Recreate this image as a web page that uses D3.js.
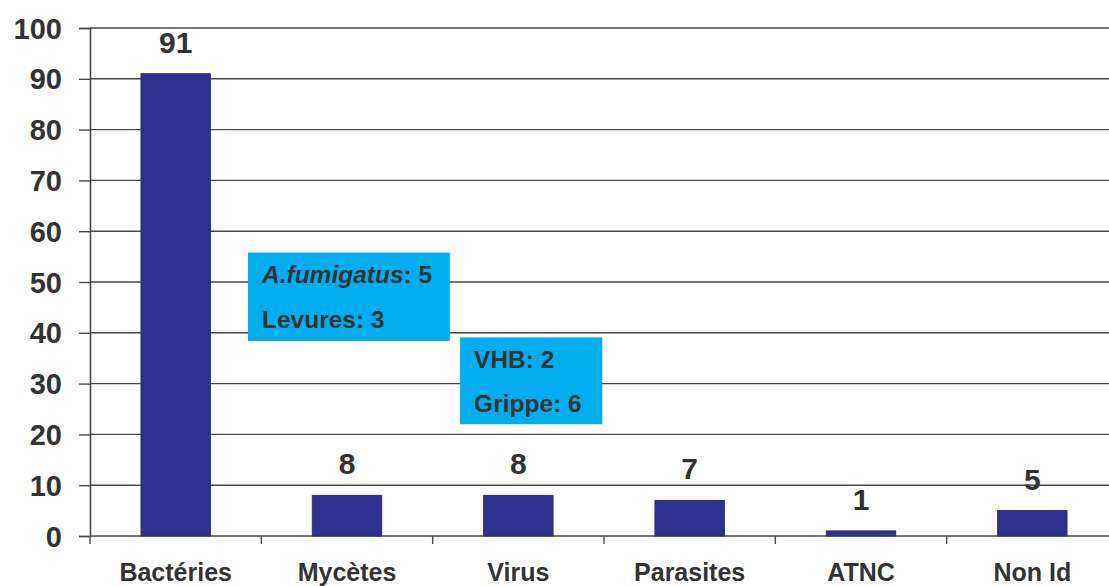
<!DOCTYPE html>
<html>
<head>
<meta charset="utf-8">
<script src="https://cdn.jsdelivr.net/npm/d3@7"></script>
<style>
  html, body { margin: 0; padding: 0; background: #fff; }
  svg { display: block; font-family: "Liberation Sans", Arial, sans-serif; }
</style>
</head>
<body>
<svg id="chart" width="1109" height="586"></svg>
<script>
const categories = ["Bactéries", "Mycètes", "Virus", "Parasites", "ATNC", "Non Id"];
const values = [91, 8, 8, 7, 1, 5];
const yTicks = [0, 10, 20, 30, 40, 50, 60, 70, 80, 90, 100];
const annotationLines1 = [["A.fumigatus", ": 5"], ["", "Levures: 3"]];
const annotationLines2 = [["", "VHB: 2"], ["", "Grippe: 6"]];
// annotation boxes in data units: x in category-band units, y in value units
const annotationBoxes = [
  { x0: 0.922, x1: 2.10, y0: 55.8, y1: 38.4, lines: annotationLines1 },
  { x0: 2.16, x1: 2.99, y0: 39.1, y1: 22.0, lines: annotationLines2 }
];

(function () {
const svg = d3.select("#chart");
const textColor = "#333333";
const plotLeft = 90, plotRight = 1118, plotTop = 28, plotBottom = 536;

const x = d3.scaleBand().domain(categories).range([plotLeft, plotRight]).padding(0);
const xu = d3.scaleLinear().domain([0, categories.length]).range([plotLeft, plotRight]);
const y = d3.scaleLinear().domain([0, 100]).range([plotBottom, plotTop]);

// gridlines
svg.append("g").selectAll("line").data(yTicks.filter(d => d > 0)).join("line")
  .attr("x1", plotLeft).attr("x2", 1109)
  .attr("y1", d => y(d)).attr("y2", d => y(d))
  .attr("stroke", "#4a4a4a").attr("stroke-width", 1.4);

// y axis
const yAxis = d3.axisLeft(y).tickValues(yTicks).tickSize(11).tickPadding(17);
const gy = svg.append("g").attr("transform", `translate(${plotLeft},0)`).call(yAxis);
gy.select(".domain").attr("stroke", "#4a4a4a").attr("stroke-width", 1.6);
gy.selectAll(".tick line").attr("stroke", "#4a4a4a").attr("stroke-width", 1.4);
gy.selectAll(".tick text").attr("fill", textColor).attr("font-size", 29)
  .attr("font-weight", "bold").attr("font-family", "Liberation Sans, Arial, sans-serif")
  .attr("dy", "0.35em");

// x axis
const xAxis = d3.axisBottom(x).tickSize(0).tickPadding(0).tickFormat(() => "");
const gx = svg.append("g").attr("transform", `translate(0,${plotBottom})`).call(xAxis);
gx.select(".domain").remove();
gx.append("line").attr("x1", plotLeft).attr("x2", 1109).attr("y1", 0).attr("y2", 0)
  .attr("stroke", "#4a4a4a").attr("stroke-width", 1.6);
gx.selectAll(".boundary").data(d3.range(categories.length + 1)).join("line")
  .attr("class", "boundary")
  .attr("x1", d => xu(d)).attr("x2", d => xu(d))
  .attr("y1", 0).attr("y2", 8)
  .attr("stroke", "#4a4a4a").attr("stroke-width", 1.4);

// category labels
svg.append("g").selectAll("text").data(categories).join("text")
  .attr("x", d => x(d) + x.bandwidth() / 2)
  .attr("y", 581)
  .attr("text-anchor", "middle")
  .attr("fill", textColor).attr("font-size", 25).attr("font-weight", "bold")
  .text(d => d);

// bars
const barW = x.bandwidth() * 0.405;
svg.append("g").selectAll("rect").data(values).join("rect")
  .attr("x", (d, i) => x(categories[i]) + x.bandwidth() / 2 - barW / 2)
  .attr("y", d => y(d))
  .attr("width", barW)
  .attr("height", d => y(0) - y(d))
  .attr("fill", "#2E3192")
  .attr("stroke", "#333344").attr("stroke-width", 1);

// value labels
svg.append("g").selectAll("text").data(values).join("text")
  .attr("x", (d, i) => x(categories[i]) + x.bandwidth() / 2)
  .attr("y", d => y(d) - 21)
  .attr("text-anchor", "middle")
  .attr("fill", textColor).attr("font-size", 30).attr("font-weight", "bold")
  .text(d => d);

// annotation boxes
annotationBoxes.forEach(b => {
  const g = svg.append("g");
  const bx = xu(b.x0), by = y(b.y0);
  g.append("rect")
    .attr("x", bx).attr("y", by)
    .attr("width", xu(b.x1) - xu(b.x0))
    .attr("height", y(b.y1) - y(b.y0))
    .attr("fill", "#00ADEE");
  b.lines.forEach((ln, i) => {
    const t = g.append("text")
      .attr("x", bx + 14).attr("y", by + 30.5 + i * 44.5)
      .attr("fill", textColor).attr("font-size", 24.5).attr("font-weight", "bold");
    if (ln[0]) t.append("tspan").attr("font-style", "italic").text(ln[0]);
    t.append("tspan").text(ln[1]);
  });
});
})();
</script>
</body>
</html>
